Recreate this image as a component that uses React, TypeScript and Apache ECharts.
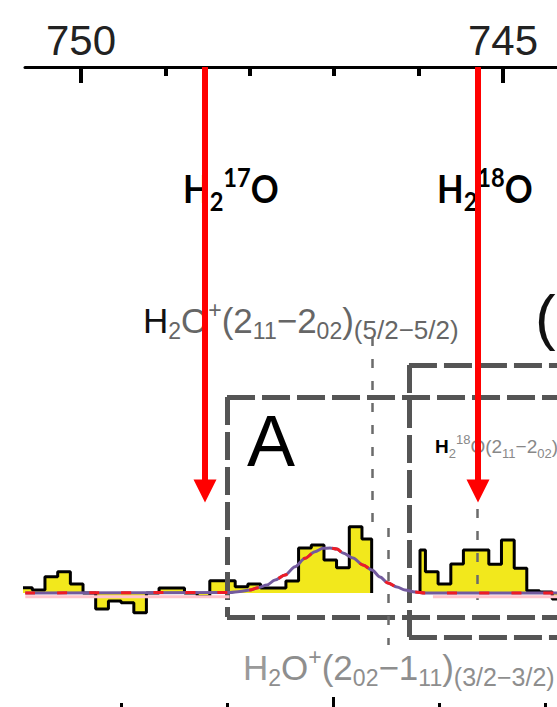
import React, { useEffect, useRef } from "react";
import * as echarts from "echarts";

// Observed frequency axis (GHz), drawn right-to-left along the top edge
const freqMin = 744.36;
const freqMax = 750.6635;
const freqTicksMajor = [745, 750];
const freqTicksMinor = [746, 747, 748, 749];

// Velocity ticks along the lower edge (km/s)
const velMin = -290.6;
const velMax = 211.3;
const velTicksMajor = [0];
const velTicksMinor = [-200, -100, 100, 200];

// Flux density range (arbitrary units)
const fluxMin = -11.4;
const fluxMax = 52.6;

// Spectrum segment A: left channel edges (GHz), flux per channel, last right edge
const specAEdges = [
  750.727, 750.577, 750.427, 750.276, 750.126, 749.976, 749.826, 749.675,
  749.525, 749.374, 749.225, 749.075, 748.924, 748.774, 748.623, 748.474,
  748.323, 748.173, 748.023, 747.872, 747.723, 747.572, 747.422, 747.271,
  747.121, 746.972, 746.821, 746.671,
];
const specAFlux = [
  0.53, 0.3, 1.63, 2.13, 0.9, 0, -1.6, -0.8, -0.97, -1.97, 0, 0.5, 0.5, 0,
  -0.35, 1.23, 1.23, 0.63, 0.9, 0.5, 0.5, 1.2, 4.5, 4.8, 3.3, 2.53, 6.63, 5.4,
];
const specAEnd = 746.556;

// Spectrum segment B
const specBEdges = [
  745.983, 745.919, 745.769, 745.618, 745.469, 745.319, 745.168, 745.018,
  744.867, 744.718, 744.568, 744.417,
];
const specBFlux = [4.3, 2.13, 0.9, 2.9, 4.3, 4.3, 2.87, 5.3, 2.47, 0.23, 0.1, -0.6];
const specBEnd = 744.267;

// Gaussian fit to the H2O+ feature (sampled curve)
const fitFreq = [
  750.66, 748.235, 748.116, 747.998, 747.903, 747.796, 747.701, 747.583,
  747.464, 747.346, 747.228, 747.133, 747.05, 746.967, 746.896, 746.777,
  746.659, 746.552, 746.457, 746.363, 746.256, 746.161, 746.043, 745.924,
  744.36,
];
const fitFlux = [
  0, 0.05, 0.15, 0.3, 0.53, 0.8, 1.3, 1.8, 2.63, 3.47, 4.13, 4.47, 4.5, 4.4,
  4.0, 3.5, 2.8, 2.3, 1.6, 1.0, 0.6, 0.3, 0.1, 0, 0,
];

// Faint offset copy of the continuum level
const ghostFreq = [750.66, 748.24, 748.0, 745.83, 744.36];
const ghostFlux: (number | string)[] = [-0.37, -0.37, "-", -0.37, -0.37];

// Isotopologue rest frequencies (redshifted), with arrow tip level
const isotopeFreq = [748.531, 745.296];
const arrowTop = 52.6;
const arrowTip = 10.2;

// Transition markers: [freq, from, to]
const markerFreq = [746.549, 746.359, 745.308];
const markerFrom = [25.6, 6.5, 12.8];
const markerTo = [6.8, -5.2, -0.7];

// Dashed selection boxes: left freq, top flux, bottom flux (open to the right)
const boxLeft = [748.27, 746.114];
const boxTop = [19.6, 22.8];
const boxBottom = [-2.4, -4.4];

function stepData(edges: number[], flux: number[], end: number) {
  const pts: number[][] = [[edges[0], 0]];
  edges.forEach((e, i) => pts.push([e, flux[i]]));
  pts.push([end, flux[flux.length - 1]]);
  pts.push([end, 0]);
  return pts;
}

const SANS = "Liberation Sans";

function tok(size: number, lh: number, fill: string, va?: string, weight?: string, family = SANS) {
  const s: any = { fontSize: size, lineHeight: lh, fill, fontFamily: family };
  if (va) s.verticalAlign = va;
  if (weight) s.fontWeight = weight;
  return s;
}

function buildOption() {
  const boxSegments: any[] = [];
  boxLeft.forEach((l, i) => {
    boxSegments.push([{ coord: [l, boxTop[i]] }, { coord: [freqMin, boxTop[i]] }]);
    boxSegments.push([{ coord: [l, boxTop[i]] }, { coord: [l, boxBottom[i]] }]);
    boxSegments.push([{ coord: [l, boxBottom[i]] }, { coord: [freqMin, boxBottom[i]] }]);
  });
  const markerSegments = markerFreq.map((f, i) => [
    { coord: [f, markerFrom[i]] },
    { coord: [f, markerTo[i]] },
  ]);
  const arrowSegments = isotopeFreq.map((f) => [
    { coord: [f, arrowTop] },
    { coord: [f, arrowTip] },
  ]);
  const fitData = fitFreq.map((f, i) => [f, fitFlux[i]]);
  const ghostData = ghostFreq.map((f, i) => [f, ghostFlux[i]]);

  const hidden = { show: false };
  const freqBase = {
    type: "value",
    position: "top",
    inverse: true,
    min: freqMin,
    max: freqMax,
    splitLine: hidden,
  };
  const velBase = {
    type: "value",
    position: "bottom",
    min: velMin,
    max: velMax,
    splitLine: hidden,
    axisLabel: hidden,
    axisLine: { show: false, onZero: false },
  };

  const greyMain = "#666";
  const upperRich = {
    h: tok(35, 44, "#111"),
    m: tok(35, 44, greyMain),
    b: tok(23, 18, greyMain, "bottom"),
    t: tok(23, 31, greyMain, "top"),
    c: tok(26, 16, greyMain, "bottom"),
  };
  const lowGrey = "#8e8e8e";
  const lowerRich = {
    h: tok(35, 44, "#9a9a9a"),
    m: tok(35, 44, lowGrey),
    b: tok(23, 18, lowGrey, "bottom"),
    t: tok(23, 31, lowGrey, "top"),
    c: tok(25, 16, lowGrey, "bottom"),
  };
  const smallRich = {
    h: tok(19, 27, "#000", undefined, "bold"),
    m: tok(19, 27, "#888"),
    b: tok(13, 16, "#888", "bottom"),
    t: tok(13, 14, "#888", "top"),
  };
  const isoRich = {
    m: tok(38, 50, "#000", undefined, "bold", "Lato"),
    b: tok(26, 24, "#000", "bottom", "bold", "Lato"),
    t: tok(26, 27, "#000", "top", "bold", "Lato"),
  };

  return {
    animation: false,
    backgroundColor: "#fff",
    grid: { left: 25, right: 0, top: 67, bottom: 0, containLabel: false },
    xAxis: [
      {
        ...freqBase,
        axisLine: { show: true, onZero: false, lineStyle: { color: "#000", width: 3 } },
        axisTick: {
          show: true,
          inside: true,
          length: 16,
          customValues: freqTicksMajor,
          lineStyle: { color: "#000", width: 4 },
        },
        axisLabel: {
          show: true,
          customValues: freqTicksMajor,
          margin: 6,
          fontSize: 42,
          color: "#222",
          fontFamily: SANS,
        },
      },
      {
        ...freqBase,
        axisLine: { show: false, onZero: false },
        axisTick: {
          show: true,
          inside: true,
          length: 9,
          customValues: freqTicksMinor,
          lineStyle: { color: "#000", width: 4 },
        },
        axisLabel: hidden,
      },
      {
        ...velBase,
        axisTick: {
          show: true,
          inside: true,
          length: 10,
          customValues: velTicksMajor,
          lineStyle: { color: "#000", width: 3 },
        },
      },
      {
        ...velBase,
        axisTick: {
          show: true,
          inside: true,
          length: 4,
          customValues: velTicksMinor,
          lineStyle: { color: "#000", width: 3 },
        },
      },
    ],
    yAxis: { type: "value", min: fluxMin, max: fluxMax, show: false },
    series: [
      {
        name: "spectrum A",
        type: "line",
        step: "end",
        data: stepData(specAEdges, specAFlux, specAEnd),
        showSymbol: false,
        symbol: "none",
        lineStyle: { color: "#000", width: 3 },
        areaStyle: { color: "#f2e81c", opacity: 1 },
        silent: true,
        z: 2,
      },
      {
        name: "spectrum B",
        type: "line",
        step: "end",
        data: stepData(specBEdges, specBFlux, specBEnd),
        showSymbol: false,
        symbol: "none",
        lineStyle: { color: "#000", width: 3 },
        areaStyle: { color: "#f2e81c", opacity: 1 },
        silent: true,
        z: 2,
      },
      {
        name: "boxes",
        type: "line",
        data: [],
        markLine: {
          silent: true,
          z: 3,
          symbol: ["none", "none"],
          label: { show: false },
          lineStyle: { color: "#555", width: 5, type: [28, 7], cap: "butt" },
          emphasis: { disabled: true },
          data: boxSegments,
        },
      },
      {
        name: "transitions",
        type: "line",
        data: [],
        markLine: {
          silent: true,
          z: 3,
          symbol: ["none", "none"],
          label: { show: false },
          lineStyle: { color: "#6b6b6b", width: 2.5, type: [9, 13] },
          emphasis: { disabled: true },
          data: markerSegments,
        },
      },
      {
        name: "continuum ghost",
        type: "line",
        data: ghostData,
        showSymbol: false,
        symbol: "none",
        lineStyle: { color: "#ffc4cc", width: 3 },
        silent: true,
        z: 4,
      },
      {
        name: "fit",
        type: "line",
        data: fitData,
        smooth: 0.3,
        smoothMonotone: "x",
        showSymbol: false,
        symbol: "none",
        lineStyle: { color: "#735a9e", width: 3 },
        silent: true,
        z: 4,
      },
      {
        name: "fit dashed",
        type: "line",
        data: fitData,
        smooth: 0.3,
        smoothMonotone: "x",
        showSymbol: false,
        symbol: "none",
        lineStyle: { color: "#ee1c25", width: 3, type: [10, 22] },
        silent: true,
        z: 4,
      },
      {
        name: "isotopologues",
        type: "line",
        data: [],
        markLine: {
          silent: true,
          z: 6,
          symbol: ["none", "triangle"],
          symbolSize: 23,
          label: { show: false },
          lineStyle: { color: "#ff0000", width: 6, type: "solid", opacity: 1 },
          itemStyle: { color: "#ff0000" },
          emphasis: { disabled: true },
          data: arrowSegments,
        },
      },
    ],
    graphic: [
      {
        type: "text",
        x: 183,
        y: 163.5,
        z: 1,
        scaleX: 0.91,
        style: {
          text: "{m|H}{b|2}{t|17}{m|O}",
          rich: isoRich,
          verticalAlign: "top",
          align: "left",
        },
      },
      {
        type: "text",
        x: 437,
        y: 163.5,
        z: 1,
        scaleX: 0.91,
        style: {
          text: "{m|H}{b|2}{t|18}{m|O}",
          rich: isoRich,
          verticalAlign: "top",
          align: "left",
        },
      },
      {
        type: "text",
        x: 143,
        y: 298.5,
        z: 1,
        style: {
          text: "{h|H}{b|2}{m|O}{t|+}{m|(2}{b|11}{m|−2}{b|02}{m|)}{c|(5/2−5/2)}",
          rich: upperRich,
          verticalAlign: "top",
          align: "left",
        },
      },
      {
        type: "text",
        x: 243,
        y: 645.5,
        z: 1,
        style: {
          text: "{h|H}{b|2}{m|O}{t|+}{m|(2}{b|02}{m|−1}{b|11}{m|)}{c|(3/2−3/2)}",
          rich: lowerRich,
          verticalAlign: "top",
          align: "left",
        },
      },
      {
        type: "text",
        x: 435,
        y: 433,
        z: 1,
        style: {
          text: "{h|H}{b|2}{t|18}{m|O(2}{b|11}{m|−2}{b|02}{m|)}",
          rich: smallRich,
          verticalAlign: "top",
          align: "left",
        },
      },
      {
        type: "text",
        x: 247,
        y: 441,
        z: 1,
        style: {
          text: "A",
          fontFamily: SANS,
          fontSize: 72,
          fill: "#000",
          verticalAlign: "middle",
          align: "left",
        },
      },
      {
        type: "text",
        x: 535,
        y: 316,
        z: 1,
        style: {
          text: "(",
          fontFamily: SANS,
          fontSize: 62,
          fill: "#111",
          verticalAlign: "middle",
          align: "left",
        },
      },
    ],
  };
}

export default function App() {
  const ref = useRef<HTMLDivElement>(null);
  useEffect(() => {
    if (!ref.current) return;
    const chart = echarts.init(ref.current, null, { renderer: "svg" });
    chart.setOption(buildOption() as any);
    return () => chart.dispose();
  }, []);
  return (
    <div
      ref={ref}
      style={{
        position: "absolute",
        left: 0,
        top: 0,
        width: 557,
        height: 707,
        background: "#fff",
      }}
    />
  );
}
